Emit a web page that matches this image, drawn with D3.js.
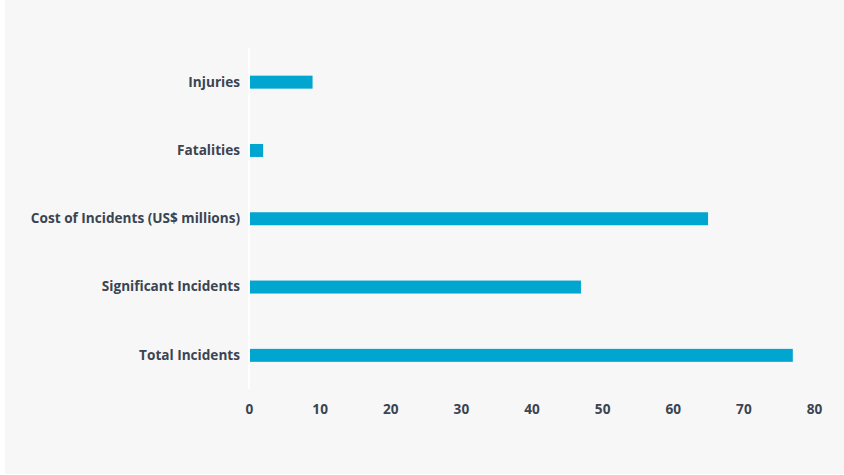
<!DOCTYPE html>
<html>
<head>
<meta charset="utf-8">
<script src="https://cdn.jsdelivr.net/npm/d3@7"></script>
<style>
  html, body { margin: 0; padding: 0; background: #ffffff; }
  svg { display: block; }
  text { font-family: "Open Sans", Lato, sans-serif; font-weight: 700; }
</style>
</head>
<body>
<svg id="chart" width="844" height="475"></svg>
<script>
const categories = ["Injuries", "Fatalities", "Cost of Incidents (US$ millions)", "Significant Incidents", "Total Incidents"];
const values = [9, 2, 65, 47, 77];
const xTicks = [0, 10, 20, 30, 40, 50, 60, 70, 80];

const svg = d3.select("#chart");
svg.append("rect").attr("x", 5).attr("y", 0).attr("width", 839).attr("height", 474).attr("fill", "#f7f7f7");

const x = d3.scaleLinear().domain([0, 80]).range([249, 814]);
const y = d3.scaleBand().domain(categories).range([48, 389.5]).paddingInner(0.81).paddingOuter(0.405);

// bars
svg.append("g").selectAll("rect").data(categories).join("rect")
  .attr("x", x(0))
  .attr("y", d => y(d))
  .attr("width", (d, i) => x(values[i]) - x(0))
  .attr("height", y.bandwidth())
  .attr("fill", "#00a5d0");

// y axis line (white)
svg.append("line").attr("x1", x(0)).attr("x2", x(0)).attr("y1", 48).attr("y2", 389)
  .attr("stroke", "#ffffff").attr("stroke-width", 2);

// y axis labels
const yAxis = d3.axisLeft(y).tickSize(0).tickPadding(9);
const gy = svg.append("g").attr("transform", `translate(${x(0)},0)`).call(yAxis);
gy.select(".domain").remove();
gy.selectAll("text").attr("fill", "#3a4452").style("font-size", "13.6px");

// x axis labels
const xAxis = d3.axisBottom(x).tickValues(xTicks).tickSize(0).tickPadding(0);
const gx = svg.append("g").attr("transform", `translate(0,404)`).call(xAxis);
gx.select(".domain").remove();
gx.selectAll("text").attr("fill", "#3a4452").style("font-size", "13.6px");
</script>
</body>
</html>
